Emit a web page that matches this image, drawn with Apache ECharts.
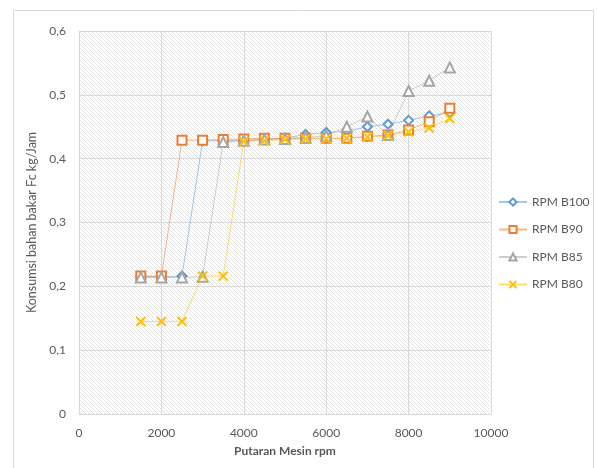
<!DOCTYPE html>
<html>
<head>
<meta charset="utf-8">
<script src="https://cdn.jsdelivr.net/npm/echarts@6/dist/echarts.min.js"></script>
<style>
  html, body { margin: 0; padding: 0; background: #fff; }
  #chart { width: 597px; height: 468px; }
</style>
</head>
<body>
<div id="chart"></div>
<script>
// Engine speed (rpm)
const rpm = [1500, 2000, 2500, 3000, 3500, 4000, 4500, 5000, 5500, 6000, 6500, 7000, 7500, 8000, 8500, 9000];

// Fuel consumption Fc (kg/jam) per blend
const rpmB100 = [0.215, 0.215, 0.216, 0.428, 0.428, 0.429, 0.430, 0.432, 0.438, 0.441, 0.443, 0.450, 0.454, 0.460, 0.467, 0.472];
const rpmB90  = [0.216, 0.216, 0.429, 0.429, 0.430, 0.431, 0.432, 0.432, 0.432, 0.432, 0.432, 0.435, 0.437, 0.445, 0.458, 0.479];
const rpmB85  = [0.214, 0.214, 0.214, 0.215, 0.426, 0.428, 0.430, 0.431, 0.433, 0.436, 0.450, 0.466, 0.437, 0.506, 0.522, 0.543];
const rpmB80  = [0.145, 0.145, 0.145, 0.216, 0.216, 0.427, 0.428, 0.430, 0.431, 0.431, 0.432, 0.434, 0.436, 0.442, 0.448, 0.463];

const seriesNames = ['RPM B100', 'RPM B90', 'RPM B85', 'RPM B80'];
const xTicks = [0, 2000, 4000, 6000, 8000, 10000];
const yTicks = [0, 0.1, 0.2, 0.3, 0.4, 0.5, 0.6];

// diagonal hatch fill for the plot area
function hatch() {
  const s = 4;
  const c = document.createElement('canvas');
  c.width = s; c.height = s;
  const g = c.getContext('2d');
  g.fillStyle = '#ffffff';
  g.fillRect(0, 0, s, s);
  g.strokeStyle = '#e3e3e3';
  g.lineWidth = 1;
  g.beginPath();
  g.moveTo(-1, -1); g.lineTo(s + 1, s + 1);
  g.moveTo(-1, s - 1); g.lineTo(1, s + 1);
  g.moveTo(s - 1, -1); g.lineTo(s + 1, 1);
  g.stroke();
  return c;
}

const crossPath = 'path://M0,0L10,10M10,0L0,10';

function pairs(ys) { return rpm.map((x, i) => [x, ys[i]]); }

function makeSeries(name, ys, color, symbol, size, bw) {
  return {
    name: name,
    type: 'line',
    data: pairs(ys),
    symbol: symbol,
    symbolSize: size,
    showAllSymbol: true,
    lineStyle: { color: color, width: 1, opacity: 0.55 },
    itemStyle: { color: symbol === crossPath ? color : '#ffffff', borderColor: color, borderWidth: bw },
    emphasis: { disabled: true }
  };
}

const chart = echarts.init(document.getElementById('chart'), null, { renderer: 'canvas' });
const textColor = '#595959';
const fontFam = 'Lato, "Open Sans", sans-serif';

chart.setOption({
  animation: false,
  backgroundColor: '#ffffff',
  textStyle: { fontFamily: fontFam },
  graphic: [{
    type: 'rect',
    shape: { x: 13.5, y: 10.5, width: 580, height: 470 },
    style: { fill: 'none', stroke: '#d9d9d9', lineWidth: 1 },
    silent: true
  }],
  grid: {
    left: 79, right: 106, top: 31, bottom: 54,
    show: true,
    backgroundColor: { image: hatch(), repeat: 'repeat' },
    borderWidth: 0
  },
  legend: {
    orient: 'vertical',
    left: 493,
    top: 191,
    itemGap: 15.5,
    itemWidth: 28,
    itemHeight: 9,
    textStyle: { color: textColor, fontSize: 12, fontFamily: fontFam },
    data: seriesNames
  },
  xAxis: {
    type: 'value',
    min: 0, max: 10000, interval: 2000,
    name: 'Putaran Mesin rpm',
    nameLocation: 'middle',
    nameGap: 31,
    nameTextStyle: { color: textColor, fontSize: 12, fontWeight: 'bold', fontFamily: fontFam },
    axisLine: { show: true, lineStyle: { color: '#d9d9d9' } },
    axisTick: { show: false },
    axisLabel: { color: textColor, fontSize: 12, margin: 13, formatter: v => xTicks.includes(v) ? String(v) : '' },
    splitLine: { show: true, lineStyle: { color: '#d9d9d9', width: 1 } }
  },
  yAxis: {
    type: 'value',
    min: 0, max: 0.6, interval: 0.1,
    name: 'Konsumsi bahan bakar Fc kg/Jam',
    nameLocation: 'middle',
    nameGap: 34,
    nameTextStyle: { color: textColor, fontSize: 12.5, fontFamily: fontFam },
    axisLine: { show: false },
    axisTick: { show: false },
    axisLabel: {
      color: textColor, fontSize: 12, margin: 13,
      formatter: v => {
        const t = yTicks.find(k => Math.abs(k - v) < 1e-9);
        return t === 0 ? '0' : t.toFixed(1).replace('.', ',');
      }
    },
    splitLine: { show: true, lineStyle: { color: '#d9d9d9', width: 1 } }
  },
  series: [
    makeSeries(seriesNames[0], rpmB100, '#5B9BD5', 'diamond', 9, 2),
    makeSeries(seriesNames[1], rpmB90, '#ED7D31', 'rect', 9, 2),
    makeSeries(seriesNames[2], rpmB85, '#A5A5A5', 'triangle', 10, 2),
    makeSeries(seriesNames[3], rpmB80, '#FFC000', crossPath, 9, 2)
  ]
});
</script>
</body>
</html>
